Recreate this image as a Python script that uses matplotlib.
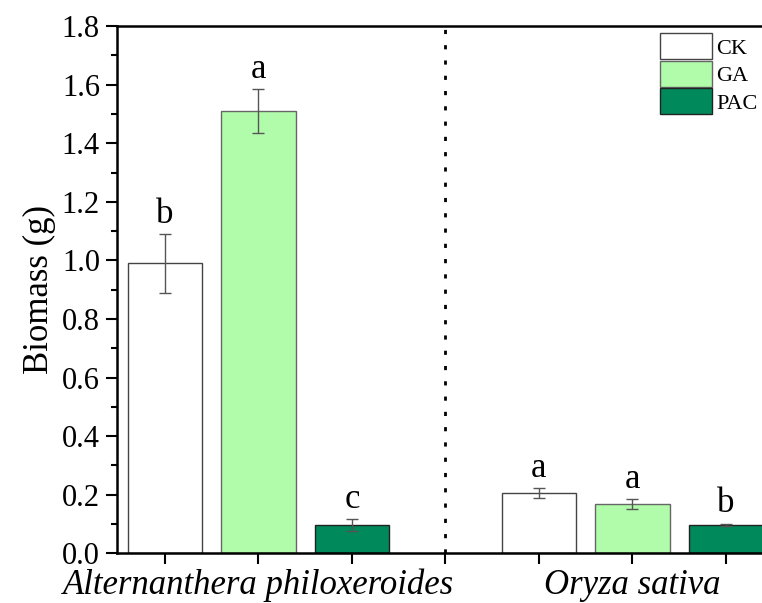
import matplotlib
matplotlib.use('Agg')
import matplotlib.pyplot as plt
from matplotlib.ticker import MultipleLocator

plt.rcParams['font.family'] = ['Liberation Serif', 'DejaVu Serif']

# data
species = ['Alternanthera philoxeroides', 'Oryza sativa']
treatments = ['CK', 'GA', 'PAC']
colors = ['#ffffff', '#b0fcaa', '#00895a']
edges = ['#444444', '#666666', '#222222']
means = {'CK': [0.99, 0.205], 'GA': [1.51, 0.168], 'PAC': [0.097, 0.098]}
errs = {'CK': [0.10, 0.017], 'GA': [0.075, 0.017], 'PAC': [0.02, 0.003]}
letters = {'CK': ['b', 'a'], 'GA': ['a', 'a'], 'PAC': ['c', 'b']}

fig = plt.figure(figsize=(7.62, 6.03), dpi=100)
ax = fig.add_axes([0.153, 0.0823, 0.861, 0.8745])

for j, sp in enumerate(species):
    for i, t in enumerate(treatments):
        x = 1 + i + 4 * j
        m = means[t][j]
        e = errs[t][j]
        ax.bar(x, m, width=0.8, color=colors[i], edgecolor=edges[i], linewidth=1,
               label=t if j == 0 else None, zorder=2)
        ax.errorbar(x, m, yerr=e, fmt='none', ecolor='#555555', elinewidth=1,
                    capsize=4, capthick=1, zorder=3)
        ax.text(x, m + e + 0.012, letters[t][j], ha='center', va='bottom', fontsize=25)

# separator between species
ax.axvline(4, color='black', linestyle=(0, (1.5, 4)), linewidth=2, zorder=1)

ax.set_xlim(0.483, 7.5)
ax.set_ylim(0, 1.8)
ax.set_xticks(range(1, 8))
ax.set_xticklabels(['', species[0], '', '', '', species[1], ''],
                   fontstyle='italic', fontsize=25)
ax.yaxis.set_major_locator(MultipleLocator(0.2))
ax.yaxis.set_minor_locator(MultipleLocator(0.1))
ax.set_yticks([0, 0.2, 0.4, 0.6, 0.8, 1.0, 1.2, 1.4, 1.6, 1.8])
ax.set_yticklabels(['0.0', '0.2', '0.4', '0.6', '0.8', '1.0', '1.2', '1.4', '1.6', '1.8'])
ax.tick_params(axis='y', which='major', direction='out', length=8, width=1.5,
               labelsize=22, pad=4)
ax.tick_params(axis='y', which='minor', direction='out', length=4.5, width=1.5)
ax.tick_params(axis='x', which='major', direction='out', length=8, width=1.5, pad=3)
ax.set_ylabel('Biomass (g)', fontsize=25, labelpad=4)

for s in ['left', 'bottom', 'top']:
    ax.spines[s].set_linewidth(1.8)
ax.spines['right'].set_visible(False)

ax.legend(loc='upper left', bbox_to_anchor=(0.866, 0.945), bbox_transform=fig.transFigure,
          frameon=False, fontsize=16, handlelength=2.34, handleheight=1.42,
          labelspacing=0.07, handletextpad=0.2, borderpad=0, borderaxespad=0)

fig.savefig('out.png', dpi=100)
